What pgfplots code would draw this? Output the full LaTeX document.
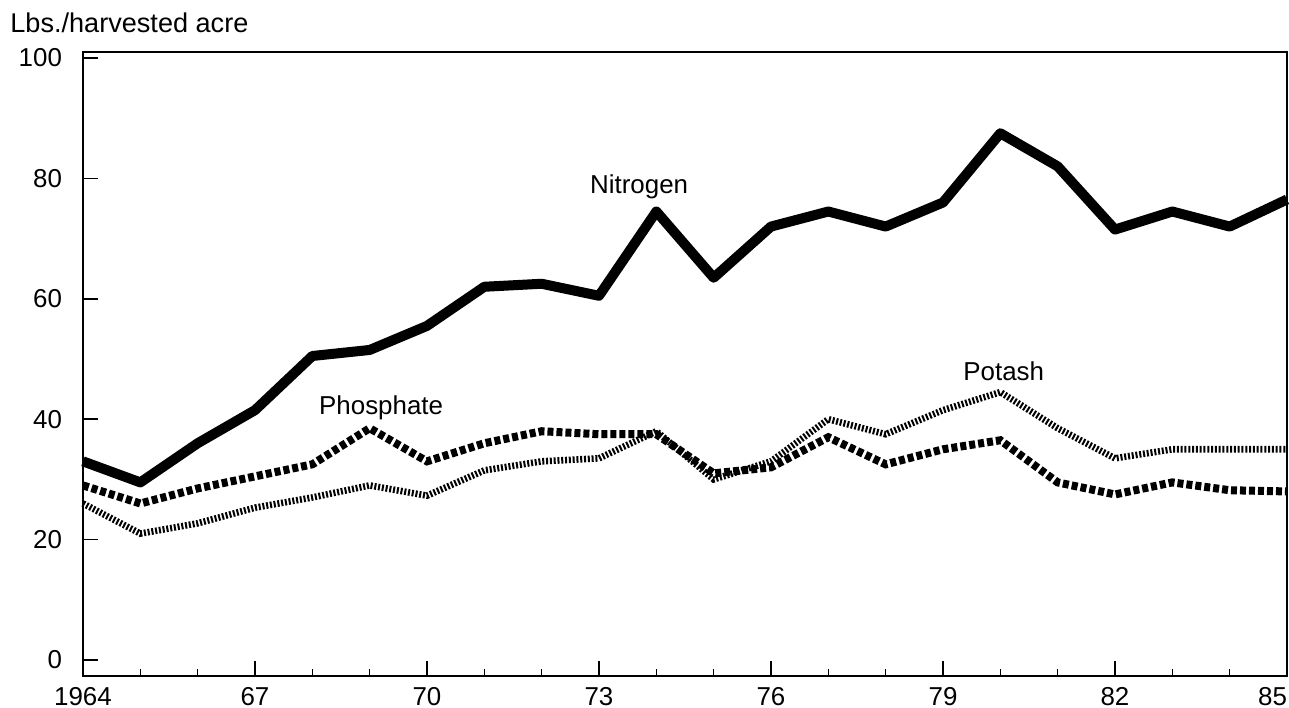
\documentclass[border=0pt]{standalone}
\usepackage{fontspec}
\setmainfont{Liberation Sans}
\usepackage{pgfplots}
\pgfplotsset{compat=1.18}

\begin{document}
\begin{tikzpicture}
\begin{axis}[
  scale only axis,
  width=602bp, height=312bp,
  xmin=1964, xmax=1985,
  ymin=-2.66, ymax=101,
  xtick={1964,1967,...,1985},
  xticklabels={1964,67,70,73,76,79,82,\llap{85}},
  minor xtick={1965,1966,1968,1969,1971,1972,1974,1975,1977,1978,1980,1981,1983,1984},
  ytick={0,20,...,100},
  xtick pos=lower, ytick pos=left,
  tick align=inside,
  major tick length=7.5bp, minor tick length=3.5bp,
  tick style={black, line width=0.8bp},
  axis line style={black, line width=1.2bp},
  clip=false,
  font=\fontsize{13}{15}\selectfont,
  /pgf/number format/assume math mode=true,
  yticklabel style={xshift=-7bp},
  xticklabel style={yshift=-2bp},
]
% Nitrogen
\addplot[black, line width=5bp, line join=round] coordinates {
  (1964,33) (1965,29.5) (1966,36) (1967,41.5) (1968,50.5) (1969,51.5)
  (1970,55.5) (1971,62) (1972,62.5) (1973,60.5) (1974,74.5) (1975,63.5)
  (1976,72) (1977,74.5) (1978,72) (1979,76) (1980,87.5) (1981,82)
  (1982,71.5) (1983,74.5) (1984,72) (1985,76.5)
};
% Phosphate
\addplot[black, line width=4bp, dash pattern=on 3bp off 1.5bp] coordinates {
  (1964,29) (1965,26) (1966,28.5) (1967,30.5) (1968,32.5) (1969,38.5)
  (1970,33) (1971,36) (1972,38) (1973,37.5) (1974,37.5) (1975,31)
  (1976,32) (1977,37) (1978,32.5) (1979,35) (1980,36.5) (1981,29.5)
  (1982,27.5) (1983,29.5) (1984,28.2) (1985,28)
};
% Potash
\addplot[black, line width=3.3bp, dash pattern=on 1bp off 0.9bp] coordinates {
  (1964,26) (1965,21) (1966,22.7) (1967,25.3) (1968,27) (1969,29)
  (1970,27.3) (1971,31.5) (1972,33) (1973,33.5) (1974,38) (1975,30)
  (1976,33) (1977,40) (1978,37.5) (1979,41.5) (1980,44.5) (1981,38.5)
  (1982,33.5) (1983,35) (1984,35) (1985,35)
};
\node at (axis cs:1973.7,78.6) {Nitrogen};
\node at (axis cs:1969.2,41.9) {Phosphate};
\node at (axis cs:1980.06,48) {Potash};
\node[anchor=base west, inner sep=0pt, font=\fontsize{13.6}{15}\selectfont] at ([xshift=-36.5bp,yshift=9.5bp]rel axis cs:0,1) {Lbs./harvested acre};
\end{axis}
\pgfresetboundingbox
\path ([xshift=-41.5bp,yshift=-16bp]current axis.south west) rectangle ([xshift=1bp,yshift=26bp]current axis.north east);
\end{tikzpicture}
\end{document}
